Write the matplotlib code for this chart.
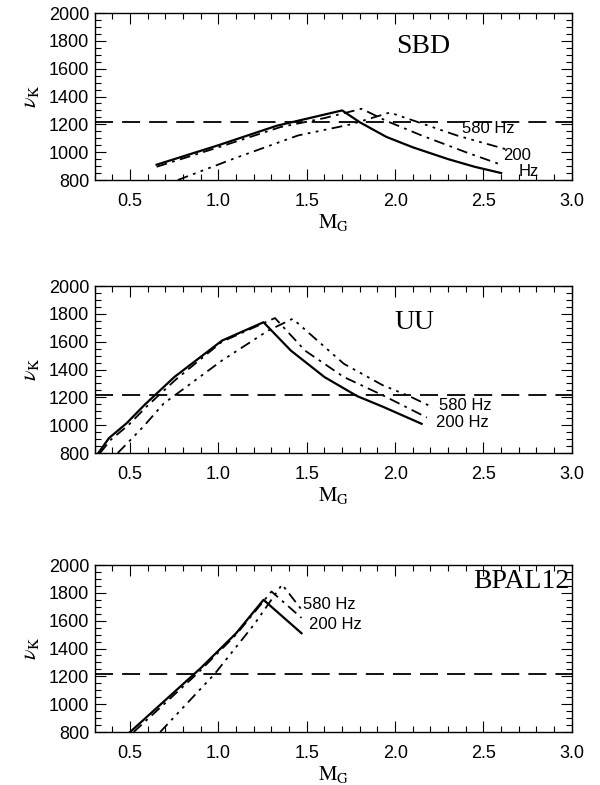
import matplotlib
matplotlib.use("Agg")
import matplotlib.pyplot as plt
from matplotlib.ticker import MultipleLocator, FormatStrFormatter

plt.rcParams['font.family'] = ['Liberation Sans', 'DejaVu Sans']
plt.rcParams['mathtext.fontset'] = 'stix'

# horizontal reference frequency
nu_ref = 1220

# SBD panel
sbd_solid_x = [0.65, 1.0, 1.33, 1.70, 1.80, 1.95, 2.1, 2.3, 2.45, 2.6]
sbd_solid_y = [910, 1050, 1190, 1300, 1215, 1110, 1035, 950, 895, 850]
sbd_200_x = [0.65, 1.0, 1.35, 1.6, 1.81, 1.95, 2.15, 2.4, 2.6]
sbd_200_y = [895, 1035, 1180, 1245, 1312, 1225, 1120, 1000, 910]
sbd_580_x = [0.77, 1.1, 1.45, 1.75, 1.97, 2.12, 2.35, 2.63]
sbd_580_y = [800, 960, 1120, 1200, 1285, 1220, 1120, 1020]

# UU panel
uu_solid_x = [0.32, 0.38, 0.48, 0.58, 0.75, 1.02, 1.255, 1.41, 1.60, 1.785, 1.93, 2.15]
uu_solid_y = [800, 907, 1014, 1144, 1346, 1608, 1740, 1536, 1346, 1209, 1133, 1010]
uu_200_x = [0.33, 0.39, 0.49, 0.59, 0.76, 1.02, 1.32, 1.49, 1.71, 1.93, 2.18]
uu_200_y = [800, 895, 1000, 1130, 1330, 1600, 1770, 1536, 1346, 1215, 1055]
uu_580_x = [0.43, 0.575, 0.69, 0.78, 1.02, 1.28, 1.42, 1.71, 1.93, 2.08, 2.21]
uu_580_y = [800, 990, 1156, 1240, 1465, 1679, 1765, 1441, 1287, 1209, 1130]

# BPAL12 panel
bp_solid_x = [0.50, 0.70, 0.90, 1.10, 1.255, 1.47]
bp_solid_y = [800, 1030, 1260, 1510, 1750, 1510]
bp_200_x = [0.52, 0.88, 1.10, 1.30, 1.47]
bp_200_y = [800, 1220, 1500, 1810, 1620]
bp_580_x = [0.67, 0.98, 1.20, 1.36, 1.47]
bp_580_y = [800, 1220, 1570, 1860, 1680]

DASHDOT = (0, (6, 3, 1.5, 3))
DASH3DOT = (0, (6, 3, 1.5, 3, 1.5, 3, 1.5, 3))

fig = plt.figure(figsize=(6, 7.85), dpi=100)

panels = [
    ('SBD', 0.7707, (sbd_solid_x, sbd_solid_y), (sbd_200_x, sbd_200_y),
     (sbd_580_x, sbd_580_y), (2.16, 1760, 'center'),
     [(2.38, 1170, '580 Hz'), (2.61, 975, '200'), (2.70, 860, 'Hz')]),
    ('UU', 0.4229, (uu_solid_x, uu_solid_y), (uu_200_x, uu_200_y),
     (uu_580_x, uu_580_y), (2.11, 1740, 'center'),
     [(2.25, 1140, '580 Hz'), (2.23, 1020, '200 Hz')]),
    ('BPAL12', 0.0675, (bp_solid_x, bp_solid_y), (bp_200_x, bp_200_y),
     (bp_580_x, bp_580_y), (2.985, 1880, 'right'),
     [(1.48, 1720, '580 Hz'), (1.51, 1570, '200 Hz')]),
]

for name, bottom, solid, c200, c580, title, notes in panels:
    ax = fig.add_axes([0.158, bottom, 0.795, 0.2127])
    ax.plot(*solid, color='black', lw=1.6)
    ax.plot(*c200, color='black', lw=1.3, linestyle=DASHDOT)
    ax.plot(*c580, color='black', lw=1.3, linestyle=DASH3DOT)
    ax.axhline(nu_ref, color='black', lw=1.3, linestyle=(0, (10, 5)))

    ax.set_xlim(0.3, 3.0)
    ax.set_ylim(800, 2000)
    ax.xaxis.set_major_locator(MultipleLocator(0.5))
    ax.xaxis.set_minor_locator(MultipleLocator(0.1))
    ax.yaxis.set_major_locator(MultipleLocator(200))
    ax.yaxis.set_minor_locator(MultipleLocator(50))
    ax.tick_params(which='both', direction='in', top=True, right=True,
                   width=0.8, labelsize=13)
    ax.tick_params(which='major', length=8)
    ax.tick_params(which='minor', length=4.5)
    ax.tick_params(axis='x', pad=9)
    ax.tick_params(axis='y', pad=4)
    ax.xaxis.set_major_formatter(FormatStrFormatter('%.1f'))
    for s in ax.spines.values():
        s.set_linewidth(1.0)

    ax.set_xlabel(r'$\mathrm{M_G}$', fontsize=15, labelpad=2)
    ax.set_ylabel(r'$\nu_{\mathrm{K}}$', fontsize=16, labelpad=6)

    tx, ty, ha = title
    ax.text(tx, ty, name, ha=ha, va='center', fontsize=20,
            family='Liberation Serif')
    for nx, ny, txt in notes:
        ax.text(nx, ny, txt, ha='left', va='center', fontsize=12)

fig.savefig('out.png', dpi=100)
